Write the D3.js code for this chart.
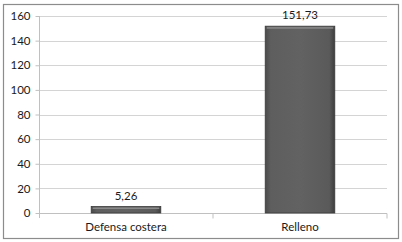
<!DOCTYPE html>
<html>
<head>
  <meta charset="utf-8">
  <script src="https://d3js.org/d3.v7.min.js"></script>
  <style>
    body { margin: 0; background: #fff; }
    text { font-family: Lato, "Open Sans", sans-serif; font-size: 11.5px; fill: #1a1a1a; }
  </style>
</head>
<body>
  <div id="chart"></div>
  <script>
    // data
    var categories = ["Defensa costera", "Relleno"];
    var values = [5.26, 151.73];
    var labels = ["5,26", "151,73"];
    var yTicks = [0, 20, 40, 60, 80, 100, 120, 140, 160];

    var W = 402, H = 242;
    var margin = {top: 16, right: 15, bottom: 29, left: 39};
    var width = W - margin.left - margin.right,
        height = H - margin.top - margin.bottom;

    var root = d3.select("#chart").append("svg")
      .attr("width", W).attr("height", H);

    // outer frame
    root.append("rect")
      .attr("x", 3.5).attr("y", 4.5)
      .attr("width", 395).attr("height", 234)
      .attr("fill", "#fff").attr("stroke", "#8c8c8c").attr("stroke-width", 1.2);

    var defs = root.append("defs");
    var grad = defs.append("linearGradient").attr("id", "barGrad")
      .attr("x1", "0").attr("x2", "1").attr("y1", "0").attr("y2", "0");
    grad.append("stop").attr("offset", "0%").attr("stop-color", "#4a4a4a");
    grad.append("stop").attr("offset", "8%").attr("stop-color", "#5e5e5e");
    grad.append("stop").attr("offset", "50%").attr("stop-color", "#626262");
    grad.append("stop").attr("offset", "92%").attr("stop-color", "#5a5a5a");
    grad.append("stop").attr("offset", "100%").attr("stop-color", "#3e3e3e");

    var svg = root.append("g")
      .attr("transform", "translate(" + margin.left + "," + margin.top + ")");

    var x = d3.scaleBand().domain(categories).range([0, width]).paddingInner(0.6).paddingOuter(0.3);
    var y = d3.scaleLinear().domain([0, 160]).range([height, 0]);

    // gridlines
    svg.append("g")
      .selectAll("line").data(yTicks.slice(1)).enter().append("line")
        .attr("x1", 0).attr("x2", width)
        .attr("y1", function(d) { return Math.round(y(d)) + 0.5; })
        .attr("y2", function(d) { return Math.round(y(d)) + 0.5; })
        .attr("stroke", "#d4d4d4");

    // y axis
    var yAxis = svg.append("g").attr("transform", "translate(0.5,0)")
      .call(d3.axisLeft(y).tickValues(yTicks).tickSize(4).tickPadding(5));
    yAxis.select(".domain").attr("stroke", "#c0c0c0").attr("d", "M0," + y(160) + "V" + (height + 5));
    yAxis.selectAll(".tick line").attr("stroke", "#c0c0c0");
    yAxis.selectAll(".tick text").style("font-family", null).style("font-size", "11.5px").attr("font-family", null).attr("font-size", null).attr("fill", "#1a1a1a");

    // x axis
    var xAxis = svg.append("g").attr("transform", "translate(0," + (Math.round(height) + 0.5) + ")");
    xAxis.append("line").attr("x1", 0).attr("x2", width).attr("stroke", "#c0c0c0");
    xAxis.append("line").attr("x1", width).attr("x2", width).attr("y1", 0).attr("y2", 5).attr("stroke", "#c0c0c0");
    var step = width / categories.length;
    xAxis.append("line").attr("x1", step).attr("x2", step).attr("y1", 0).attr("y2", 5).attr("stroke", "#c0c0c0");
    xAxis.selectAll("text.cat").data(categories).enter().append("text")
      .attr("class", "cat")
      .attr("x", function(d) { return x(d) + x.bandwidth() / 2; })
      .attr("y", 17)
      .attr("text-anchor", "middle")
      .text(function(d) { return d; });

    // bars
    var bars = svg.append("g").selectAll("g").data(values).enter().append("g");
    bars.append("rect")
      .attr("x", function(d, i) { return x(categories[i]); })
      .attr("y", function(d) { return y(d); })
      .attr("width", x.bandwidth())
      .attr("height", function(d) { return height - y(d); })
      .attr("fill", "url(#barGrad)")
      .attr("stroke", "#3a3a3a").attr("stroke-width", 0.8);
    // top bevel highlight
    bars.append("rect")
      .attr("x", function(d, i) { return x(categories[i]) + 1.5; })
      .attr("y", function(d) { return y(d) + 1; })
      .attr("width", x.bandwidth() - 3)
      .attr("height", 1.5)
      .attr("fill", "#8a8a8a");

    // value labels
    svg.append("g").selectAll("text").data(values).enter().append("text")
      .attr("x", function(d, i) { return x(categories[i]) + x.bandwidth() / 2; })
      .attr("y", function(d) { return y(d) - 7; })
      .attr("text-anchor", "middle")
      .text(function(d, i) { return labels[i]; });
  </script>
</body>
</html>
